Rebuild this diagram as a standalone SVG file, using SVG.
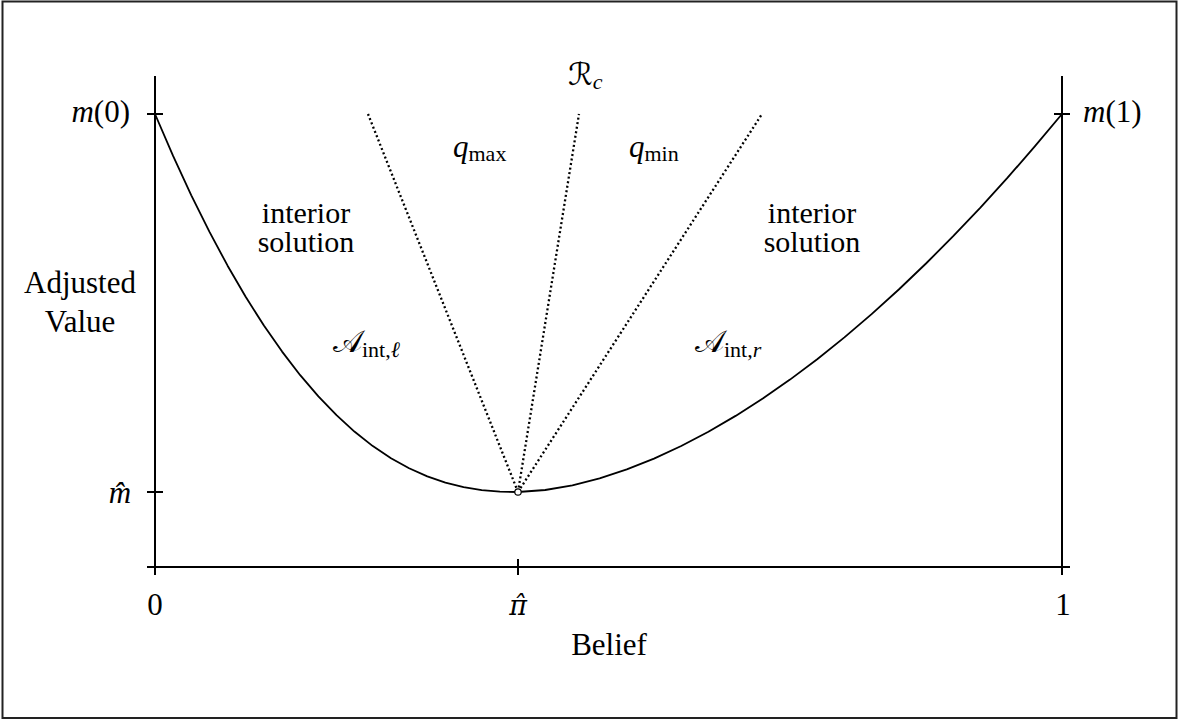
<svg xmlns="http://www.w3.org/2000/svg" width="1178" height="721" viewBox="0 0 1178 721">
<style>
 text { font-family: "Liberation Serif", "DejaVu Serif", serif; font-size: 31px; fill: #000; }
 .it { font-style: italic; }
 .dv { font-family: "DejaVu Serif", serif; font-style: italic; font-size: 27px; }
 .sub { font-size: 22px; font-style: normal; }
 .subit { font-size: 22px; font-style: italic; }
 .cal { font-family: "DejaVu Serif", "DejaVu Sans", "Liberation Serif", serif; font-style: normal; }
 .two { font-size: 30px; }
 .axis { stroke: #000; stroke-width: 2; fill: none; }
 .curve { stroke: #000; stroke-width: 1.8; fill: none; stroke-linejoin: round; }
 .dot { stroke: #000; stroke-width: 2.3; stroke-dasharray: 2 2.6; fill: none; }
</style>
<rect x="2.5" y="1.5" width="1174" height="716.5" fill="#fff" stroke="#222" stroke-width="2"/>

<g id="axes">
 <line class="axis" x1="155" y1="76" x2="155" y2="575"/>
 <line class="axis" x1="1062" y1="76" x2="1062" y2="575"/>
 <line class="axis" x1="147" y1="567" x2="1070" y2="567"/>
 <line class="axis" x1="147" y1="114" x2="163" y2="114"/>
 <line class="axis" x1="147" y1="492" x2="163" y2="492"/>
 <line class="axis" x1="1054" y1="114" x2="1070" y2="114"/>
 <line class="axis" x1="518" y1="559" x2="518" y2="575"/>
</g>

<g id="connectors">
 <line class="dot" x1="518" y1="492" x2="368" y2="114"/>
 <line class="dot" x1="518" y1="492" x2="579" y2="114"/>
 <line class="dot" x1="518" y1="492" x2="762" y2="114"/>
</g>

<g id="curve">
 <path class="curve" d="M155,114 L173.2,156.1 L191.3,195.3 L209.5,231.9 L227.6,265.7 L245.8,297.0 L263.9,325.6 L282.1,351.6 L300.2,375.2 L318.4,396.4 L336.5,415.2 L354.7,431.8 L372.8,446.1 L391.0,458.2 L409.1,468.3 L427.3,476.4 L445.4,482.7 L463.6,487.2 L481.7,490.1 L499.9,491.6 L518,492 L545.2,490.0 L572.4,485.3 L599.6,478.3 L626.8,469.4 L654,458.6 L681.2,446.0 L708.4,431.8 L735.6,415.9 L762.8,398.5 L790,379.6 L817.2,359.2 L844.4,337.4 L871.6,314.1 L898.8,289.5 L926,263.5 L953.2,236.2 L980.4,207.6 L1007.6,177.7 L1034.8,146.4 L1062,114"/>
</g>

<g id="min-point">
 <circle cx="518" cy="492" r="3.2" fill="#fff" stroke="#000" stroke-width="1.2"/>
</g>

<g id="y-labels">
 <text x="130" y="122" text-anchor="end"><tspan class="it">m</tspan>(0)</text>
 <text x="1083" y="122"><tspan class="it">m</tspan>(1)</text>
 <text x="120" y="503" text-anchor="middle" class="it">m̂</text>
 <text x="80" y="293" text-anchor="middle">Adjusted<tspan x="80" dy="39">Value</tspan></text>
</g>

<g id="x-labels">
 <text x="155" y="615" text-anchor="middle">0</text>
 <text x="518" y="615" text-anchor="middle" class="dv">π̂</text>
 <text x="1063" y="615" text-anchor="middle">1</text>
 <text x="609" y="655" text-anchor="middle">Belief</text>
</g>

<g id="region-labels">
 <text class="two" x="306" y="223" text-anchor="middle">interior<tspan x="306" dy="29">solution</tspan></text>
 <text class="two" x="812" y="223" text-anchor="middle">interior<tspan x="812" dy="29">solution</tspan></text>
 <text x="333" y="352"><tspan class="cal">𝒜</tspan><tspan class="sub" dy="5">int,</tspan><tspan class="subit">ℓ</tspan></text>
 <text x="695" y="352"><tspan class="cal">𝒜</tspan><tspan class="sub" dy="5">int,</tspan><tspan class="subit">r</tspan></text>
 <text x="453" y="157"><tspan class="it">q</tspan><tspan class="sub" dy="4">max</tspan></text>
 <text x="629" y="157"><tspan class="it">q</tspan><tspan class="sub" dy="4">min</tspan></text>
 <text x="568" y="85"><tspan class="cal">ℛ</tspan><tspan class="subit" dy="4">c</tspan></text>
</g>
</svg>
